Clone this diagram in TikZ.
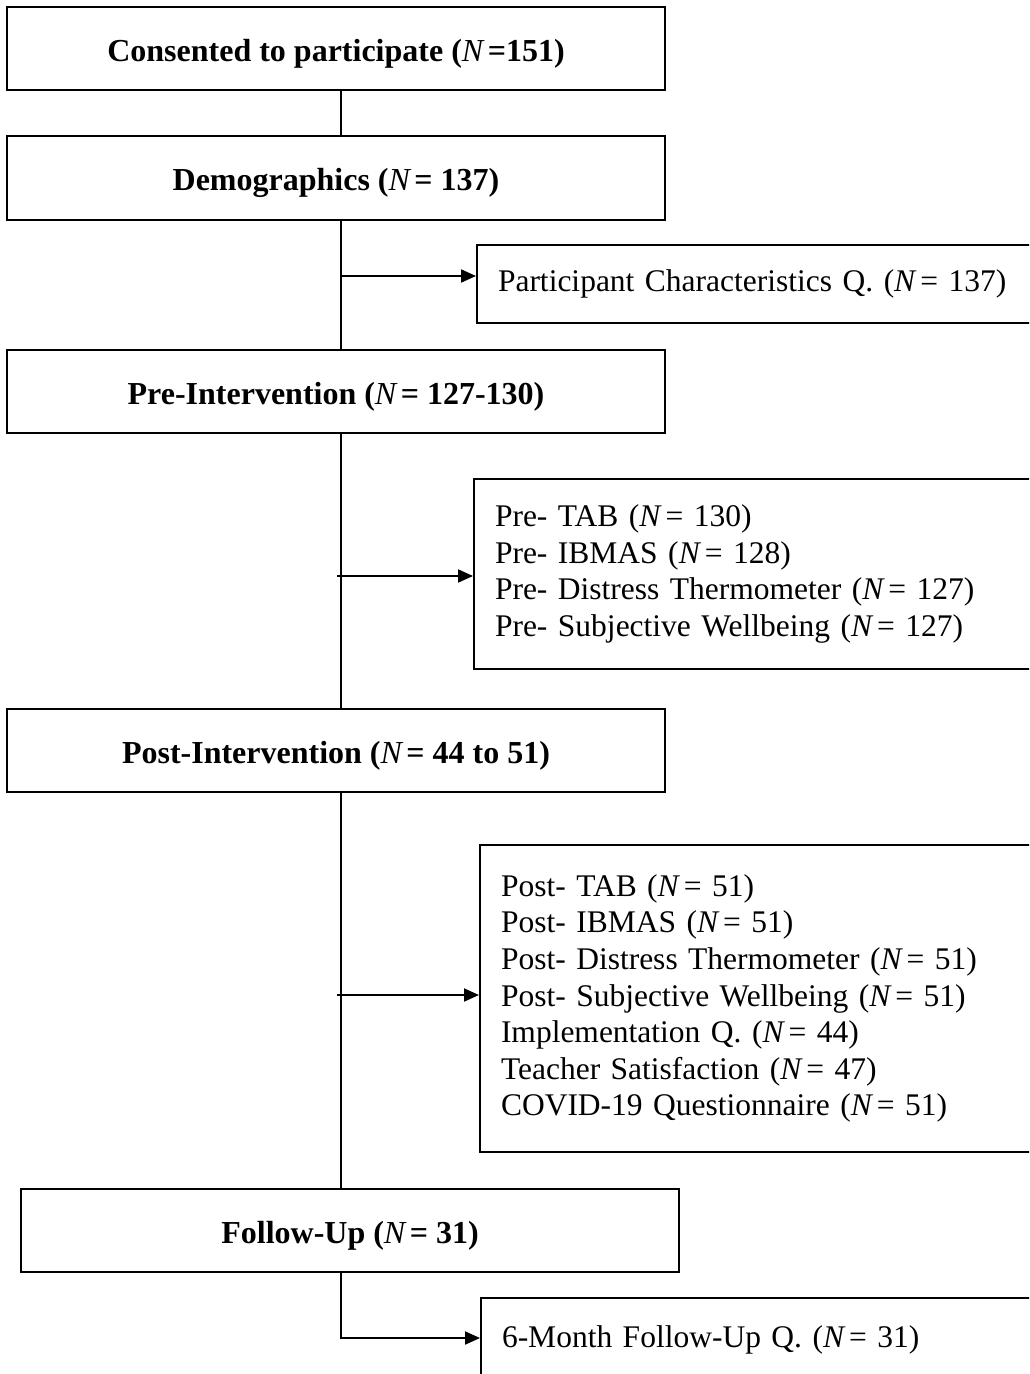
\documentclass[tikz,border=0pt]{standalone}
\usepackage{fontspec}
\setmainfont{Liberation Serif}
\usetikzlibrary{arrows.meta,calc}
\newcommand{\nN}{{\mdseries\itshape N}\kern0.14em}
\newcommand{\iN}{{\itshape N}\kern0.16em}
\tikzset{
  base/.style={draw=black, line width=1pt, rectangle, font=\fontsize{15.75}{18.3}\selectfont\frenchspacing},
  mainbox/.style={base, minimum width=329pt, minimum height=41.5pt, inner sep=0pt, text height=14pt, text depth=1pt, font=\fontsize{16}{18.3}\selectfont\frenchspacing\bfseries, align=center},
  sidebox/.style={base, anchor=north west, inner xsep=10.5pt, inner ysep=0pt, align=left},
  conn/.style={line width=1pt},
  arr/.style={line width=1pt, -{Triangle[length=7.5pt,width=6.5pt]}}
}
\begin{document}
\begin{tikzpicture}[x=0.5pt,y=-0.5pt]
\useasboundingbox (0,0) rectangle (1029,1374);
\fill[white] (0,0) rectangle (1029,1374);
\clip (0,0) rectangle (1029,1374);
% main boxes
\node[mainbox] (b1) at (336,49) {Consented to participate (\nN=151)};
\node[mainbox, minimum height=42pt] (b2) at (336,178) {Demographics (\nN= 137)};
\node[mainbox] (b3) at (336,391.5) {Pre-Intervention (\nN= 127-130)};
\node[mainbox] (b4) at (336,750.5) {Post-Intervention (\nN= 44 to 51)};
\node[mainbox] (b5) at (350,1230.5) {Follow-Up (\nN= 31)};
% side boxes
\node[sidebox, text width=265pt, minimum height=39pt] (s1) at (476,244) {Participant Characteristics Q. (\iN= 137)};
\node[sidebox, text width=266pt, minimum height=95pt] (s2) at (473,478) {Pre- TAB (\iN= 130)\\Pre- IBMAS (\iN= 128)\\Pre- Distress Thermometer (\iN= 127)\\Pre- Subjective Wellbeing (\iN= 127)};
\node[sidebox, text width=263pt, minimum height=153.5pt] (s3) at (479,844) {Post- TAB (\iN= 51)\\Post- IBMAS (\iN= 51)\\Post- Distress Thermometer (\iN= 51)\\Post- Subjective Wellbeing (\iN= 51)\\Implementation Q. (\iN= 44)\\Teacher Satisfaction (\iN= 47)\\COVID-19 Questionnaire (\iN= 51)};
\node[sidebox, text width=262pt, minimum height=42pt] (s4) at (480,1297) {6-Month Follow-Up Q. (\iN= 31)};
% spine and arrow origins
\coordinate (sp) at (341,0);
\coordinate (a1) at (341,276);
\coordinate (a2) at (337,576);
\coordinate (a3) at (337,995);
\coordinate (a4) at (341,1338);
% connectors
\draw[conn] (b1.south -| sp) -- (b2.north -| sp);
\draw[conn] (b2.south -| sp) -- (b3.north -| sp);
\draw[conn] (b3.south -| sp) -- (b4.north -| sp);
\draw[conn] (b4.south -| sp) -- (b5.north -| sp);
\draw[arr] (a1) -- (a1 -| s1.west);
\draw[arr] (a2) -- (a2 -| s2.west);
\draw[arr] (a3) -- (a3 -| s3.west);
\draw[arr] (b5.south -| sp) -- (a4) -- (a4 -| s4.west);
\end{tikzpicture}
\end{document}
